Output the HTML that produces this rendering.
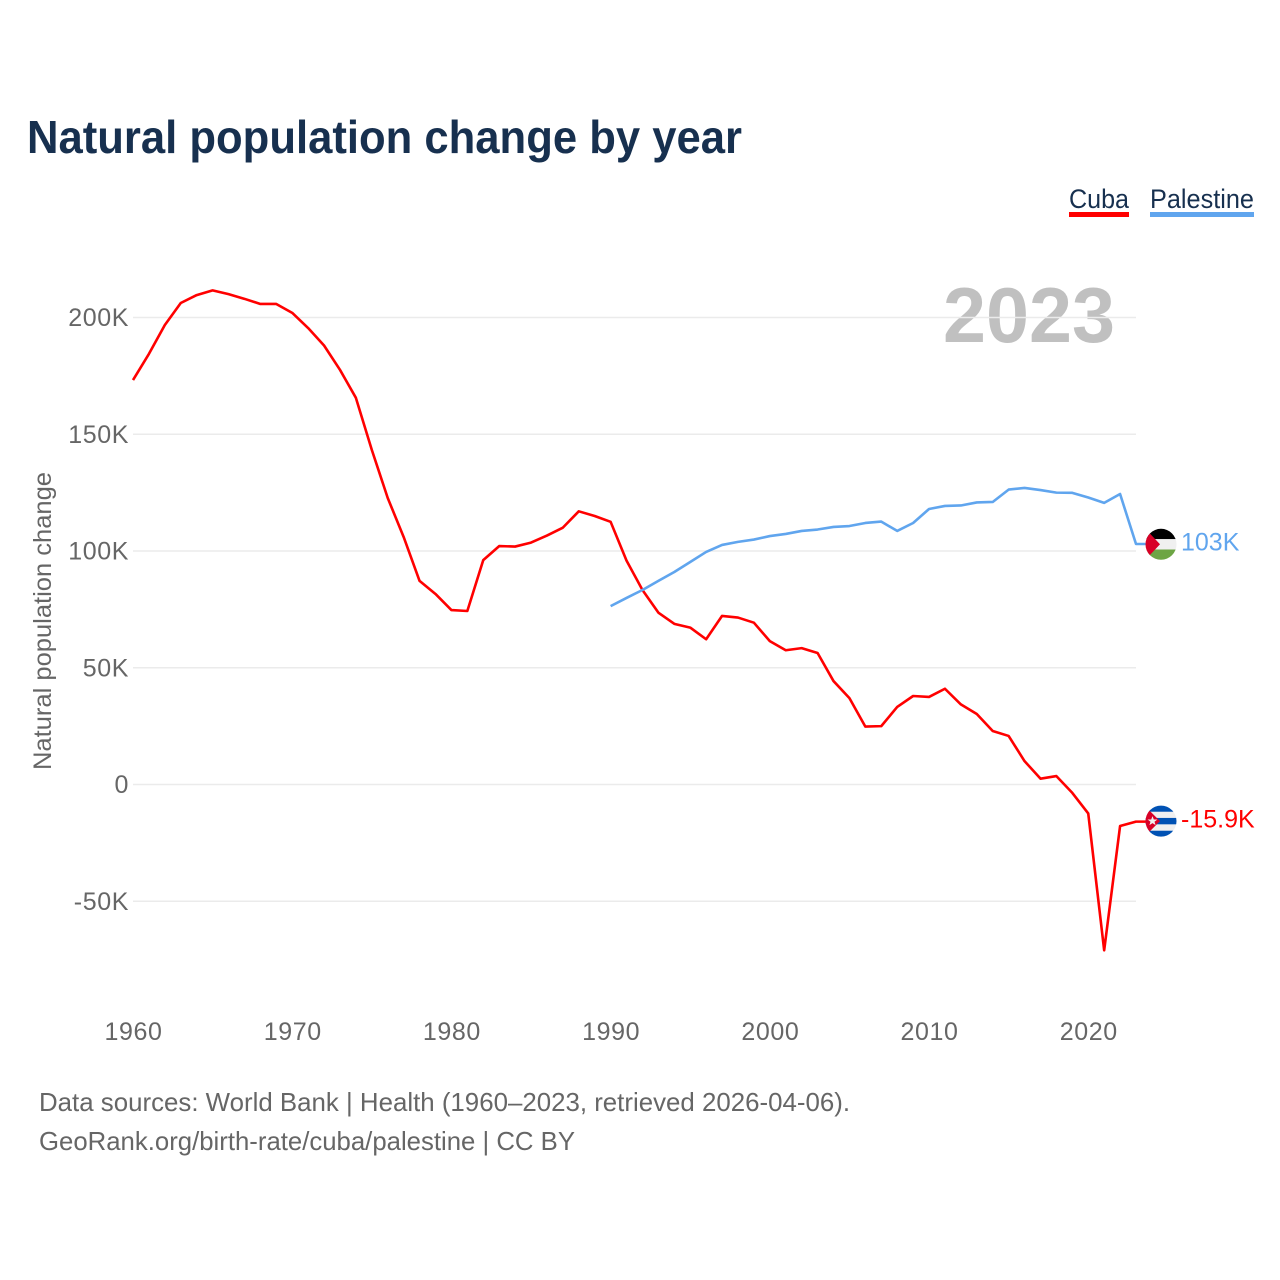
<!DOCTYPE html>
<html lang="en">
<head>
<meta charset="utf-8">
<title>Natural population change by year</title>
<style>
html,body{margin:0;padding:0;background:#fff;width:1280px;height:1280px;overflow:hidden}
svg{display:block}
text{font-family:"Liberation Sans",sans-serif}
.tick{font-size:25px;fill:#666;letter-spacing:.6px}
.foot{font-size:26px;fill:#666}
</style>
</head>
<body>
<svg id="chart" xmlns="http://www.w3.org/2000/svg" width="1280" height="1280" viewBox="0 0 1280 1280">
  <defs>
    <clipPath id="flag-clip"><circle cx="0" cy="0" r="15.5"/></clipPath>
  </defs>
  <text x="27" y="153" font-size="46" font-weight="700" fill="#17304f" textLength="715" lengthAdjust="spacingAndGlyphs">Natural population change by year</text>

  <g>
    <g>
      <text x="1069" y="208" font-size="27" fill="#17304f" textLength="60" lengthAdjust="spacingAndGlyphs">Cuba</text>
      <rect x="1069" y="212" width="60" height="5" fill="#ff0000"/>
    </g>
    <g>
      <text x="1150" y="208" font-size="27" fill="#17304f" textLength="104" lengthAdjust="spacingAndGlyphs">Palestine</text>
      <rect x="1150" y="212" width="104" height="5" fill="#60a5ee"/>
    </g>
  </g>

  <text x="943" y="342" font-size="78" font-weight="700" fill="#c0c0c0" textLength="172" lengthAdjust="spacingAndGlyphs">2023</text>

  <g id="grid"></g>
  <g id="y-axis"></g>
  <g id="x-axis"></g>
  <text transform="translate(51,770) rotate(-90)" font-size="25" fill="#666" textLength="298" lengthAdjust="spacingAndGlyphs">Natural population change</text>

  <g id="series"></g>

  <g id="flag-palestine">
    <g clip-path="url(#flag-clip)">
      <rect x="-16" y="-16" width="32" height="11" fill="#000000"/>
      <rect x="-16" y="-5.2" width="32" height="10.4" fill="#f0f0f0"/>
      <rect x="-16" y="5.2" width="32" height="11" fill="#6da544"/>
      <polygon points="-16,-16 -1,0 -16,16" fill="#d80027"/>
    </g>
  </g>
  <g id="flag-cuba">
    <g clip-path="url(#flag-clip)">
      <rect x="-16" y="-16" width="32" height="32" fill="#f0f0f0"/>
      <rect x="-16" y="-16" width="32" height="6.6" fill="#0052b4"/>
      <rect x="-16" y="-3.2" width="32" height="6.4" fill="#0052b4"/>
      <rect x="-16" y="9.6" width="32" height="6.6" fill="#0052b4"/>
      <polygon points="-16,-15 -1,0 -16,15" fill="#d80027"/>
      <polygon points="-8.5,-5 -7.2,-1.6 -3.6,-1.6 -6.5,0.6 -5.4,4 -8.5,2 -11.6,4 -10.5,0.6 -13.4,-1.6 -9.8,-1.6" fill="#f0f0f0"/>
    </g>
  </g>
  <text id="value-palestine" x="1181" font-size="25" fill="#60a5ee"></text>
  <text id="value-cuba" x="1181" font-size="25" fill="#ff0000"></text>

  <g>
    <text class="foot" x="39" y="1111" textLength="811" lengthAdjust="spacingAndGlyphs">Data sources: World Bank | Health (1960–2023, retrieved 2026-04-06).</text>
    <text class="foot" x="39" y="1150" textLength="536" lengthAdjust="spacingAndGlyphs">GeoRank.org/birth-rate/cuba/palestine | CC BY</text>
  </g>
</svg>
<script>
const yTickValues = [200, 150, 100, 50, 0, -50];
const yTickLabels = ["200K", "150K", "100K", "50K", "0", "-50K"];
const xTickYears = [1960, 1970, 1980, 1990, 2000, 2010, 2020];
const xTickLabels = ["1960", "1970", "1980", "1990", "2000", "2010", "2020"];

const cubaStartYear = 1960;
const cubaValues = [
  173.2, 184.4, 196.8, 206.2, 209.6, 211.6, 210.0, 208.0, 205.8, 205.8,
  202.0, 195.5, 188.0, 177.6, 165.6, 143.3, 122.7, 106.0, 87.2, 81.6,
  74.7, 74.3, 96.1, 102.1, 101.9, 103.6, 106.6, 110.0, 117.0, 115.0,
  112.5, 95.9, 83.3, 73.6, 68.8, 67.2, 62.2, 72.2, 71.5, 69.3,
  61.4, 57.5, 58.4, 56.3, 44.3, 37.0, 24.8, 25.0, 33.2, 37.9,
  37.5, 41.0, 34.3, 30.2, 22.9, 20.8, 10.0, 2.5, 3.6, -3.6,
  -12.4, -71.0, -17.8, -15.9
];

const palestineStartYear = 1990;
const palestineValues = [
  76.4, 79.9, 83.3, 87.2, 91.0, 95.3, 99.6, 102.6, 103.9, 104.9,
  106.4, 107.3, 108.6, 109.2, 110.3, 110.7, 112.0, 112.6, 108.6, 112.0,
  118.0, 119.3, 119.5, 120.8, 121.0, 126.3, 127.0, 126.1, 125.0, 124.9,
  122.9, 120.6, 124.4, 103.0
];

const svgNS = "http://www.w3.org/2000/svg";
const xLeft = 133, xRight = 1136, yearMin = 1960, yearMax = 2023;
const yZero = 784.5, pxPerK = 2.335;
function xScale(year) { return xLeft + (year - yearMin) * (xRight - xLeft) / (yearMax - yearMin); }
function yScale(k) { return yZero - k * pxPerK; }
function make(tag, parent) {
  const el = document.createElementNS(svgNS, tag);
  parent.appendChild(el);
  return el;
}

const gridGroup = document.getElementById("grid");
const yAxisGroup = document.getElementById("y-axis");
yTickValues.forEach(function (v, i) {
  const line = make("line", gridGroup);
  
  
  line.setAttribute("x1", xLeft);
  line.setAttribute("x2", xRight);
  line.setAttribute("y1", yScale(v));
  line.setAttribute("y2", yScale(v));
  line.setAttribute("stroke", "#ebebeb");
  line.setAttribute("stroke-width", "1.5");
  const t = make("text", yAxisGroup);
  
  
  t.setAttribute("class", "tick");
  t.setAttribute("x", 129);
  t.setAttribute("y", yScale(v) + 8.5);
  t.setAttribute("text-anchor", "end");
  t.textContent = yTickLabels[i];
});

const xAxisGroup = document.getElementById("x-axis");
xTickYears.forEach(function (yr, i) {
  const t = make("text", xAxisGroup);
  
  
  t.setAttribute("class", "tick");
  t.setAttribute("x", xScale(yr) + 0.5);
  t.setAttribute("y", 1040);
  t.setAttribute("text-anchor", "middle");
  t.textContent = xTickLabels[i];
});

function pathFor(startYear, values) {
  let pts = values.map(function (v, i) {
    return xScale(startYear + i).toFixed(2) + "," + yScale(v).toFixed(2);
  });
  const last = values[values.length - 1];
  pts.push((xRight + 10) + "," + yScale(last).toFixed(2));
  return "M" + pts.join("L");
}
function formatK(k) { return (Math.round(k * 10) / 10) + "K"; }

const seriesGroup = document.getElementById("series");
const cubaLine = make("path", seriesGroup);


cubaLine.setAttribute("d", pathFor(cubaStartYear, cubaValues));
cubaLine.setAttribute("fill", "none");
cubaLine.setAttribute("stroke", "#ff0000");
cubaLine.setAttribute("stroke-width", "2.6");
cubaLine.setAttribute("stroke-linejoin", "round");

const palestineLine = make("path", seriesGroup);


palestineLine.setAttribute("d", pathFor(palestineStartYear, palestineValues));
palestineLine.setAttribute("fill", "none");
palestineLine.setAttribute("stroke", "#60a5ee");
palestineLine.setAttribute("stroke-width", "2.6");
palestineLine.setAttribute("stroke-linejoin", "round");

const cubaLast = cubaValues[cubaValues.length - 1];
const palestineLast = palestineValues[palestineValues.length - 1];
document.getElementById("flag-cuba").setAttribute("transform", "translate(1161," + (yScale(cubaLast) - 0.5) + ")");
document.getElementById("flag-palestine").setAttribute("transform", "translate(1161," + (yScale(palestineLast) + 0.3) + ")");
const cubaValueText = document.getElementById("value-cuba");
cubaValueText.setAttribute("y", yScale(cubaLast) + 6);
cubaValueText.textContent = formatK(cubaLast);
const palestineValueText = document.getElementById("value-palestine");
palestineValueText.setAttribute("y", yScale(palestineLast) + 6.5);
palestineValueText.textContent = formatK(palestineLast);
</script>
</body>
</html>
